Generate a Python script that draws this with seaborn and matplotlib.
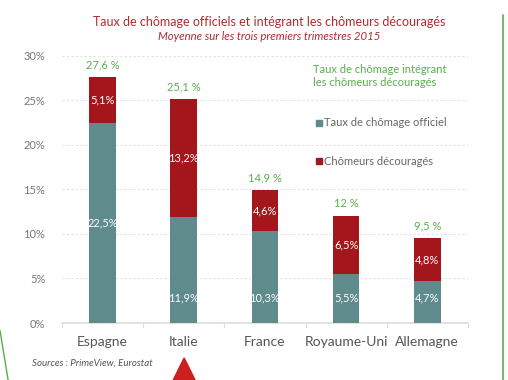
import pandas as pd
import matplotlib.pyplot as plt
import seaborn as sns
from matplotlib.lines import Line2D
from matplotlib.patches import Polygon, Rectangle

# data
pays = ["Espagne", "Italie", "France", "Royaume-Uni", "Allemagne"]
officiel = [22.5, 11.9, 10.3, 5.5, 4.7]
decourages = [5.1, 13.2, 4.6, 6.5, 4.8]
total_labels = ["27,6 %", "25,1 %", "14,9 %", "12 %", "9,5 %"]
y_ticks = [0, 5, 10, 15, 20, 25, 30]

df = pd.DataFrame({"pays": pays, "officiel": officiel, "decourages": decourages})
df["total"] = df["officiel"] + df["decourages"]

teal = "#5f8b8c"
red = "#a3161b"
green = "#5aae4c"
title_red = "#b22a2e"

sns.set_theme(style="white")
plt.rcParams["font.family"] = ["Lato", "DejaVu Sans"]

fig = plt.figure(figsize=(5.08, 3.80), dpi=100)
ax = fig.add_axes([0.122, 0.15, 0.799, 0.703])

sns.barplot(data=df, x="pays", y="total", color=red, saturation=1, width=0.33,
            linewidth=0, ax=ax, zorder=3)
sns.barplot(data=df, x="pays", y="officiel", color=teal, saturation=1, width=0.33,
            linewidth=0, ax=ax, zorder=4)

for i, row in df.iterrows():
    # labels inside the segments
    y_off = row.officiel / 2 if row.officiel > 15 else 2.8
    ax.text(i, y_off, f"{row.officiel:.1f}%".replace(".", ","), color="white",
            ha="center", va="center", fontsize=8, zorder=5)
    ax.text(i, row.officiel + row.decourages / 2, f"{row.decourages:.1f}%".replace(".", ","),
            color="white", ha="center", va="center", fontsize=8, zorder=5)
    ax.text(i, row.total + 0.8, total_labels[i], color=green, ha="center", va="bottom", fontsize=8)

ax.set_xlim(-0.5, 4.5)
ax.set_ylim(0, 30)
ax.set_yticks(y_ticks)
ax.set_yticklabels([f"{t}%" for t in y_ticks], color="#777777", fontsize=8)
ax.set_xlabel("")
ax.set_ylabel("")
ax.tick_params(axis="x", labelsize=10, labelcolor="#555555", length=0, pad=9)
ax.tick_params(axis="y", length=0, pad=12)
for y in y_ticks[1:]:
    ax.axhline(y, color="#e2e2e2", lw=0.8, ls=(0, (2, 2)), zorder=1)
for s in ["top", "right", "left"]:
    ax.spines[s].set_visible(False)
ax.spines["bottom"].set_color("#dddddd")
for b in [-0.5, 0.5, 1.5, 2.5, 3.5, 4.5]:
    ax.plot([b, b], [0, -0.5], color="#dddddd", lw=0.8, clip_on=False)

# legend drawn as text
fig.text(0.616, 0.80, "Taux de chômage intégrant\nles chômeurs découragés", color=green,
         fontsize=8, va="center", linespacing=1.3)
fig.patches.append(Rectangle((0.623, 0.669), 0.011, 0.015, color=teal, transform=fig.transFigure))
fig.text(0.638, 0.677, "Taux de chômage officiel", color="#666666", fontsize=8, va="center")
fig.patches.append(Rectangle((0.623, 0.568), 0.011, 0.015, color=red, transform=fig.transFigure))
fig.text(0.638, 0.576, "Chômeurs découragés", color="#666666", fontsize=8, va="center")

fig.text(0.53, 0.943, "Taux de chômage officiels et intégrant les chômeurs découragés",
         color=title_red, fontsize=9, ha="center", va="center")
fig.text(0.53, 0.903, "Moyenne sur les trois premiers trimestres 2015", color=title_red,
         fontsize=8.2, style="italic", ha="center", va="center")
fig.text(0.063, 0.045, "Sources : PrimeView, Eurostat", color="#555555", fontsize=7,
         style="italic", va="center")

# page decorations
fig.lines.append(Line2D([0.99, 0.99], [0, 0.96], color=green, lw=1.2, transform=fig.transFigure))
fig.lines.append(Line2D([0.0, 0.016], [0.13, 0.0], color=green, lw=1, transform=fig.transFigure))
fig.patches.append(Polygon([[0.341, 0.0], [0.384, 0.0], [0.3625, 0.058]], closed=True,
                           color="#cc1f1f", transform=fig.transFigure))

fig.savefig("out.png", dpi=100)
